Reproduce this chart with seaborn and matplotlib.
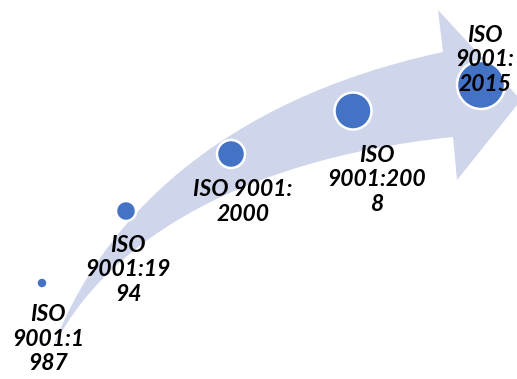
import matplotlib
matplotlib.use("Agg")
import matplotlib.pyplot as plt
from matplotlib.path import Path
from matplotlib.patches import PathPatch
import pandas as pd
import seaborn as sns

# ── Data ────────────────────────────────────────────────────────────────────
versions = ["1987", "1994", "2000", "2008", "2015"]
labels = ["ISO\n9001:1\n987", "ISO\n9001:19\n94", "ISO 9001:\n2000",
          "ISO\n9001:200\n8", "ISO\n9001:\n2015"]

# ── Layout (pixel coords, y down) ──────────────────────────────────────────
dot_x = [42, 126, 231, 353, 481]
dot_y = [283, 211, 154, 111, 85]
dot_r = [5.5, 10, 14, 18.5, 24]
lab_x = [48, 128, 243, 377, 485]
lab_y = [339, 270, 202, 180, 60]

W, H, DPI = 517, 379, 100

sns.set_theme(style="white")
plt.rcParams["font.family"] = ["Lato", "DejaVu Sans"]

fig = plt.figure(figsize=(W / DPI, H / DPI), dpi=DPI)
ax = fig.add_axes([0, 0, 1, 1])
ax.set_xlim(0, W)
ax.set_ylim(H, 0)
ax.axis("off")

# curved arrow body
verts = [(52, 350),
         (100, 220), (220, 100), (443, 52),   # upper edge
         (438, 10), (521, 100), (457, 180), (453, 137),  # head
         (230, 160), (100, 250), (52, 350),   # lower edge back to tail
         (52, 350)]
codes = [Path.MOVETO,
         Path.CURVE4, Path.CURVE4, Path.CURVE4,
         Path.LINETO, Path.LINETO, Path.LINETO, Path.LINETO,
         Path.CURVE4, Path.CURVE4, Path.CURVE4,
         Path.CLOSEPOLY]
ax.add_patch(PathPatch(Path(verts, codes), facecolor="#CFD5EA",
                       edgecolor="none", zorder=1))

# circles
df = pd.DataFrame({"x": dot_x, "y": dot_y, "version": versions})
sizes = {v: (2 * r * 72 / DPI) ** 2 for v, r in zip(versions, dot_r)}
sns.scatterplot(data=df, x="x", y="y", size="version", sizes=sizes,
                color="#4472C4", edgecolor="white", linewidth=1.8,
                legend=False, ax=ax, zorder=2)
ax.set_xlabel("")
ax.set_ylabel("")

for x, y, t in zip(lab_x, lab_y, labels):
    ax.text(x, y, t, ha="center", va="center", fontsize=16.5,
            fontweight="bold", fontstyle="italic", color="black",
            linespacing=1.2, zorder=3)

fig.savefig("out.png", dpi=DPI)
